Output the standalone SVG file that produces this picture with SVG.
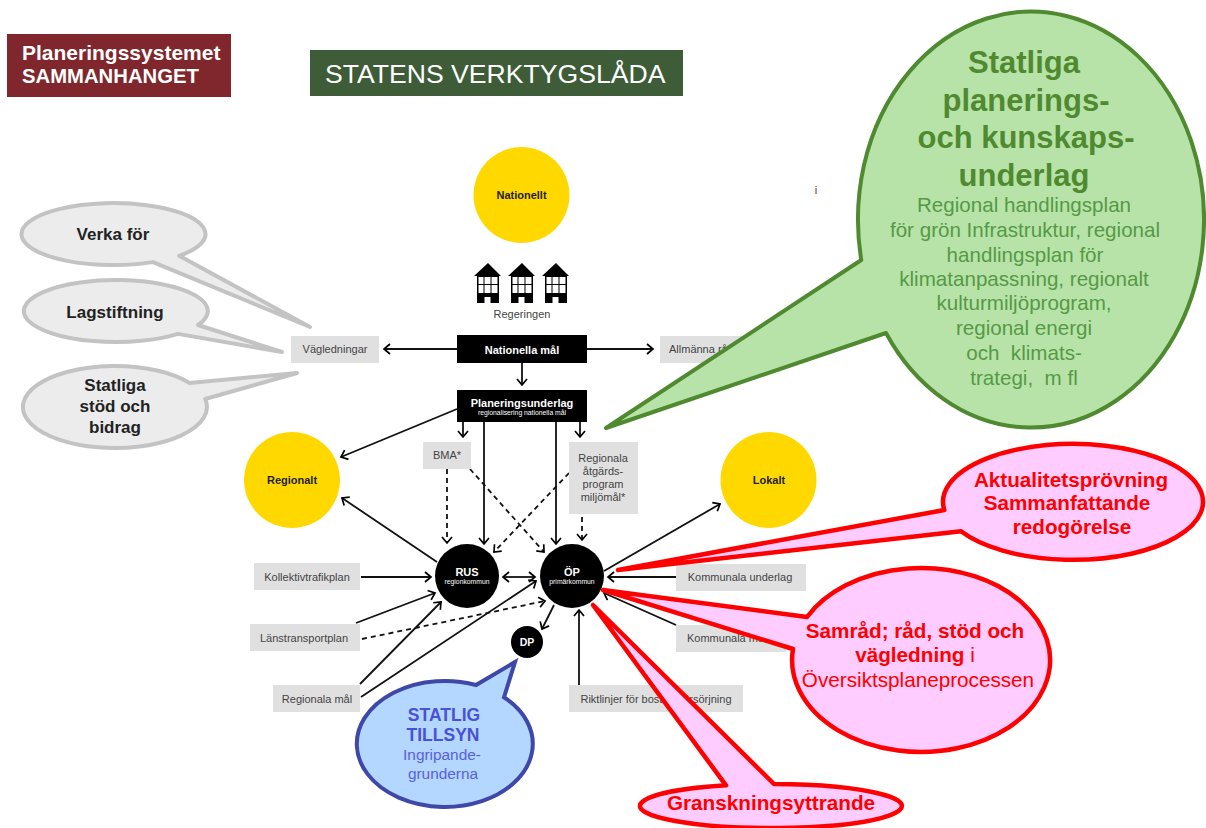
<svg xmlns="http://www.w3.org/2000/svg" width="1206" height="828" viewBox="0 0 1206 828">
<defs>
<marker id="a" markerWidth="12" markerHeight="12" refX="9.5" refY="6" orient="auto-start-reverse" markerUnits="userSpaceOnUse"><path d="M3.5 1 L9.5 6 L3.5 11" fill="none" stroke="#000" stroke-width="1.7"/></marker>
<g id="house"><path d="M474 276 L488 263 L501 276 L499 276 L499 303 L477 303 L477 276Z" fill="#000"/><path d="M478.500 277h5v7h-5zM484.500 277h6v7h-6zM491.500 277h6v7h-6zM478.500 285h5v8h-5zM484.500 285h6v8h-6zM491.500 285h6v8h-6zM484.500 297h6v6h-6z" fill="#fff"/></g>
</defs>
<style>
text{font-family:"Liberation Sans",Arial,sans-serif;text-anchor:middle}
.g{fill:#e0e0e0}
.gt{font-size:11px;fill:#444}
.b{fill:#000}
.y{fill:#ffd800}
.k{fill:none;stroke:#111;stroke-width:1.8;marker-end:url(#a)}
.d{stroke-dasharray:5 4}
.ns{font-size:11px;font-weight:bold;fill:#222}
.wt{fill:#fff;font-weight:bold}
.gc{fill:#ececec;stroke:#c3c3c3;stroke-width:4;stroke-linejoin:round}
.gct{font-size:17px;font-weight:bold;fill:#222}
.rc{fill:#ffccff;stroke:#ff0000;stroke-width:4.500;stroke-linejoin:round}
.rt{font-weight:bold;fill:#ff0000;font-size:20.700px}
.bt{font-size:17.500px;font-weight:bold;fill:#4a50d8}
.bs{font-size:15.400px;fill:#5a60e0}
.gh{font-size:31px;font-weight:bold;fill:#4f8a30}
.gs{font-size:20.600px;fill:#549a45}
</style>
<rect width="1206" height="828" fill="#fff"/>
<g id="title-red"><rect x="7" y="34" width="224" height="63" fill="#7f272c"/><text x="22" y="60" font-size="21" class="wt" style="text-anchor:start">Planeringssystemet</text><text x="22" y="83" font-size="20.300" class="wt" style="text-anchor:start">SAMMANHANGET</text></g>
<g id="title-green"><rect x="310" y="50" width="373" height="46" fill="#3d5c37"/><text x="325" y="83" font-size="26.600" fill="#fff" style="text-anchor:start">STATENS VERKTYGSLÅDA</text></g>
<g id="nationellt"><circle cx="521.500" cy="195" r="48" class="y"/><text x="521.500" y="199" class="ns">Nationellt</text></g>
<g id="regeringen">
<use href="#house"/><use href="#house" x="34"/><use href="#house" x="68"/>
<text x="522" y="318" class="gt" fill="#555">Regeringen</text></g>
<text x="816" y="194" class="gt">i</text>
<g id="connectors">
<path class="k" d="M457 349 L384 349"/>
<path class="k" d="M587 349 L653 349"/>
<path class="k" d="M522 363 L522 385"/>
<path class="k" d="M457 409 L341 457"/>
<path class="k" d="M463 422 L463 437"/>
<path class="k" d="M484 422 L484 544"/>
<path class="k" d="M556 422 L556 544"/>
<path class="k" d="M580 422 L580 437"/>
<path class="k d" d="M447 469 L447 543"/>
<path class="k d" d="M470 469 L544 552"/>
<path class="k d" d="M569 473 L494 552"/>
<path class="k d" d="M582 517 L582 540"/>
<path class="k" d="M437 562 L342 498"/>
<path class="k" d="M604 571 L720 504"/>
<path class="k" d="M361 577 L431 577"/>
<path class="k" d="M503 577 L535 577" marker-start="url(#a)"/>
<path class="k" d="M356 623 L435 593"/>
<path class="k d" d="M362 639 L545 601"/>
<path class="k" d="M360 684 L441 602"/>
<path class="k" d="M361 697 L536 581"/>
<path class="k" d="M676 577 L608 577"/>
<path class="k" d="M676 625 L604 593"/>
<path class="k" d="M579 685 L579 610"/>
<path class="k" d="M554 605 L542 629"/>
</g>
<g id="regionalt"><circle cx="292" cy="480" r="48" class="y"/><text x="292" y="484" class="ns">Regionalt</text></g>
<g id="lokalt"><circle cx="768.500" cy="480" r="48" class="y"/><text x="769" y="484" class="ns">Lokalt</text></g>
<g id="vagledningar"><rect x="291" y="336" width="88" height="27" class="g"/><text x="335" y="353" class="gt">Vägledningar</text></g>
<g id="allmanna"><rect x="660" y="336" width="110" height="27" class="g"/><text x="669" y="353" class="gt" style="text-anchor:start">Allmänna råd</text></g>
<g id="nationella-mal"><rect x="457" y="335" width="130" height="28" class="b"/><text x="522" y="354" font-size="11" class="wt">Nationella mål</text></g>
<g id="planeringsunderlag"><rect x="457" y="390" width="130" height="32" class="b"/><text x="522" y="407" font-size="11" class="wt">Planeringsunderlag</text><text x="522" y="415" font-size="6.800" fill="#fff">regionalisering nationella mål</text></g>
<g id="bma"><rect x="423" y="442" width="48" height="27" class="g"/><text x="447" y="459" class="gt">BMA*</text></g>
<g id="atgard"><rect x="569" y="442" width="69" height="72" class="g"/><text x="603" y="462" class="gt">Regionala</text><text x="603" y="475" class="gt">åtgärds-</text><text x="603" y="488" class="gt">program</text><text x="603" y="501" class="gt">miljömål*</text></g>
<g id="rus"><circle cx="467" cy="576" r="32" class="b"/><text x="467" y="576" font-size="11" class="wt">RUS</text><text x="467" y="584" font-size="6.800" fill="#fff">regionkommun</text></g>
<g id="op"><circle cx="572" cy="576" r="32" class="b"/><text x="572" y="576" font-size="11" class="wt">ÖP</text><text x="572" y="584" font-size="6.800" fill="#fff">primärkommun</text></g>
<g id="dp"><circle cx="527" cy="642" r="16" class="b"/><text x="527" y="646" font-size="10.500" class="wt">DP</text></g>
<g id="kollektiv"><rect x="254" y="563" width="106" height="27" class="g"/><text x="307" y="581" class="gt">Kollektivtrafikplan</text></g>
<g id="lanstransport"><rect x="250" y="624" width="110" height="27" class="g"/><text x="304" y="642" class="gt">Länstransportplan</text></g>
<g id="regionala-mal"><rect x="273" y="685" width="87" height="27" class="g"/><text x="317" y="703" class="gt">Regionala mål</text></g>
<g id="kommunala-underlag"><rect x="676" y="564" width="130" height="27" class="g"/><text x="740" y="581" class="gt">Kommunala underlag</text></g>
<g id="kommunala-mal"><rect x="676" y="625" width="110" height="27" class="g"/><text x="687" y="642" class="gt" style="text-anchor:start">Kommunala mål</text></g>
<g id="riktlinjer"><rect x="569" y="685" width="174" height="27" class="g"/><text x="656" y="703" class="gt">Riktlinjer för bostadsförsörjning</text></g>
<g id="verka"><path class="gc" d="M310 327 L179.200 255.800 A92 31 0 1 0 153 262.100 Z"/><text x="113" y="240" class="gct">Verka för</text></g>
<g id="lagstiftning"><path class="gc" d="M282 352 L198 325 A92 31 0 1 0 178 333.900 Z"/><text x="115" y="318" class="gct">Lagstiftning</text></g>
<g id="statliga-stod"><path class="gc" d="M297 373 L189.600 383 A92 41 0 1 0 205.200 399 Z"/><text x="115" y="391" class="gct">Statliga</text><text x="115" y="412" class="gct">stöd och</text><text x="115" y="433" class="gct">bidrag</text></g>
<g id="tillsyn"><path d="M515 662 L476 685 A88 63 0 1 0 504 697.300 Z" fill="#b3d7ff" stroke="#3f48a8" stroke-width="4"/><text x="444" y="721" class="bt">STATLIG</text><text x="443" y="741" class="bt">TILLSYN</text><text x="442" y="760" class="bs">Ingripande-</text><text x="443" y="779" class="bs">grunderna</text></g>
<g id="aktualitet"><path class="rc" d="M618 570 L944.300 510 A130 58 0 1 1 961 531.300 Z"/><text x="1071" y="487" class="rt">Aktualitetsprövning</text><text x="1067" y="510" class="rt">Sammanfattande</text><text x="1072" y="534" class="rt">redogörelse</text></g>
<g id="samrad"><path class="rc" d="M603 590 L807 617 A129 92 0 1 1 793 649 Z"/><text x="915" y="638" class="rt">Samråd; råd, stöd och</text><text x="915" y="662" class="rt">vägledning <tspan font-weight="normal">i</tspan></text><text x="918" y="687" font-size="20.700" fill="#ff0000">Översiktsplaneprocessen</text></g>
<g id="gransknings"><path class="rc" d="M593 605 L726 785.340 A131 22 0 1 0 774 784.010 Z"/><text x="771" y="810" class="rt">Granskningsyttrande</text></g>
<g id="kunskap"><path d="M606 428 L861.300 260 A173 208 0 1 1 886 333 Z" fill="#b8e3a8" stroke="#4f8a30" stroke-width="4" stroke-linejoin="round"/>
<text x="1024" y="73" class="gh">Statliga</text><text x="1026" y="111" class="gh">planerings-</text><text x="1026" y="148" class="gh">och kunskaps-</text><text x="1024" y="186" class="gh">underlag</text>
<text x="1024" y="212" class="gs">Regional handlingsplan</text><text x="1025" y="237" class="gs">för grön Infrastruktur, regional</text><text x="1025" y="262" class="gs">handlingsplan för</text><text x="1024" y="286" class="gs">klimatanpassning, regionalt</text><text x="1024" y="310" class="gs">kulturmiljöprogram,</text><text x="1024" y="335" class="gs">regional energi</text><text x="1024" y="360" class="gs" xml:space="preserve">och  klimats-</text><text x="1024" y="385" class="gs" xml:space="preserve">trategi,  m fl</text></g>
</svg>
